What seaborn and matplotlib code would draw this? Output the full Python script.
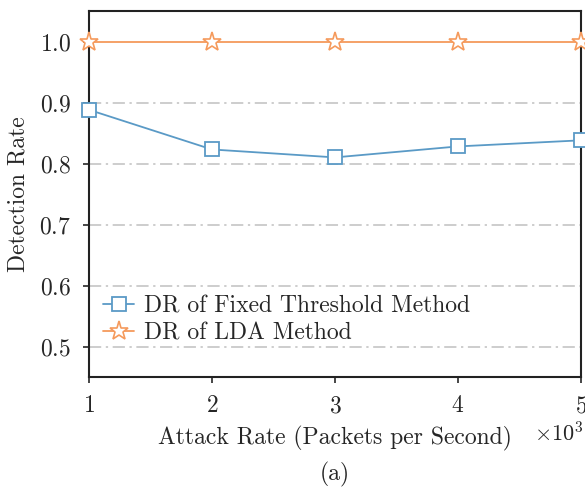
import pandas as pd
import matplotlib
matplotlib.use("Agg")
import matplotlib.pyplot as plt
import seaborn as sns

# values
attack_rate = [1000, 2000, 3000, 4000, 5000]
dr_fixed = [0.888, 0.823, 0.810, 0.828, 0.838]
dr_lda = [1.0, 1.0, 1.0, 1.0, 1.0]
y_ticks = [0.5, 0.6, 0.7, 0.8, 0.9, 1.0]

blue = "#5a9ac6"
orange = "#f59a5c"
fs = 17

sns.set_style("ticks")
plt.rcParams["font.family"] = ["cmr10", "DejaVu Serif"]
plt.rcParams["mathtext.fontset"] = "cm"
plt.rcParams["axes.formatter.use_mathtext"] = True
plt.rcParams["axes.unicode_minus"] = False

df = pd.DataFrame({
    "rate": attack_rate * 2,
    "dr": dr_fixed + dr_lda,
    "method": ["DR of Fixed Threshold Method"] * 5 + ["DR of LDA Method"] * 5,
})

fig = plt.figure(figsize=(5.85, 4.87), dpi=100)
ax = fig.add_axes([89 / 585, 110 / 487, 492 / 585, 366 / 487])

# grid first so the lines sit above it
for yv in y_ticks[:-1]:
    ax.axhline(yv, color="#c0c0c0", lw=1.1, ls=(0, (8, 3, 1.5, 3)), zorder=0)

sns.lineplot(data=df[df.method == "DR of Fixed Threshold Method"], x="rate", y="dr",
             ax=ax, color=blue, marker="s", markersize=10, markerfacecolor="white",
             markeredgecolor=blue, markeredgewidth=1.3, lw=1.3,
             label="DR of Fixed Threshold Method", clip_on=False, zorder=3)
sns.lineplot(data=df[df.method == "DR of LDA Method"], x="rate", y="dr",
             ax=ax, color=orange, marker="*", markersize=14, markerfacecolor="white",
             markeredgecolor=orange, markeredgewidth=1.2, lw=1.3,
             label="DR of LDA Method", clip_on=False, zorder=3)

ax.set_xlim(1000, 5000)
ax.set_ylim(0.45, 1.05)
ax.set_xticks(attack_rate)
ax.set_yticks(y_ticks)
ax.ticklabel_format(axis="x", style="sci", scilimits=(3, 3))
off = ax.xaxis.get_offset_text()
off.set_fontsize(fs - 1)
off.set_horizontalalignment("left")
off.set_x(0.905)
ax.tick_params(labelsize=fs, direction="out", length=4, width=1.2, pad=9)

for s in ax.spines.values():
    s.set_linewidth(1.5)
    s.set_color("#222222")

ax.set_xlabel("Attack Rate (Packets per Second)", fontsize=fs, labelpad=6)
ax.set_ylabel("Detection Rate", fontsize=fs, labelpad=7)

ax.legend(loc="lower left", bbox_to_anchor=(0.0, 0.05), frameon=False,
          fontsize=fs, handlelength=1.3, handletextpad=0.45, labelspacing=0.2,
          borderaxespad=0.2)

fig.text(0.5 * (89 + 581) / 585, 1 - 474 / 487, "(a)", ha="center", va="center", fontsize=fs)

fig.savefig("out.png", dpi=100)
